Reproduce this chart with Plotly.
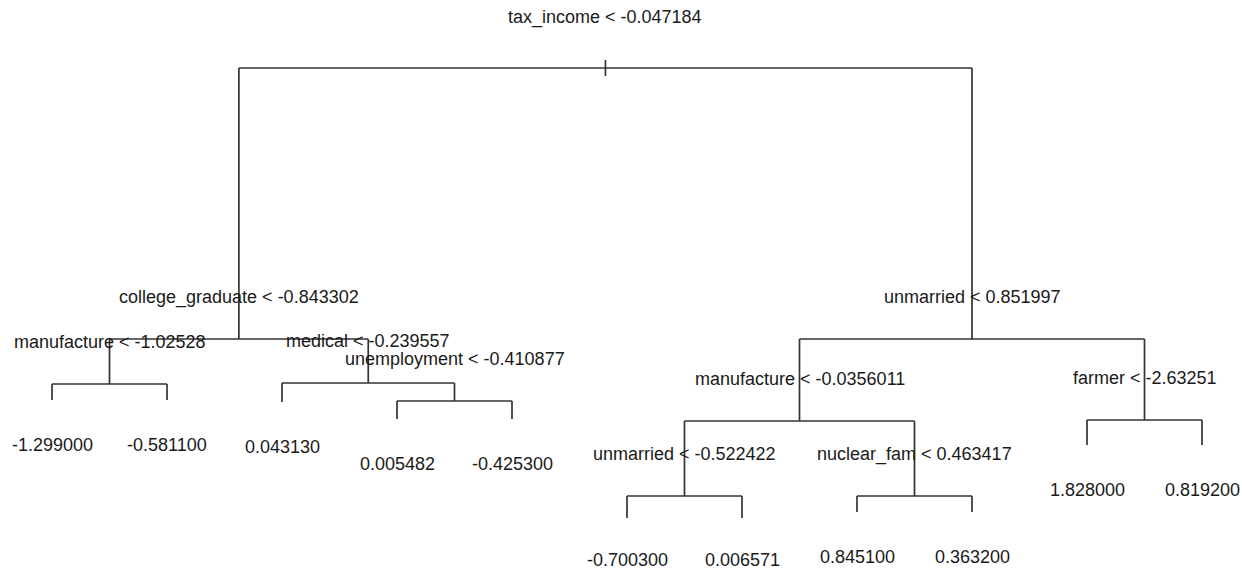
import plotly.graph_objects as go

# Regression tree (R "tree" style). Node ids follow R numbering: children of n are 2n, 2n+1.
node_ids = [1, 2, 3, 4, 5, 6, 7, 8, 9, 10, 11, 12, 13, 14, 15, 22, 23, 24, 25, 26, 27]
split_labels = {
    1: "tax_income < -0.047184",
    2: "college_graduate < -0.843302",
    4: "manufacture < -1.02528",
    5: "medical < -0.239557",
    11: "unemployment < -0.410877",
    3: "unmarried < 0.851997",
    6: "manufacture < -0.0356011",
    12: "unmarried < -0.522422",
    13: "nuclear_fam < 0.463417",
    7: "farmer < -2.63251",
}
leaf_values = {
    8: "-1.299000", 9: "-0.581100", 10: "0.043130",
    22: "0.005482", 23: "-0.425300",
    24: "-0.700300", 25: "0.006571", 26: "0.845100", 27: "0.363200",
    14: "1.828000", 15: "0.819200",
}
# node height (deviance scale)
node_height = {
    1: 502, 2: 231, 3: 231, 4: 186, 5: 187, 6: 149, 7: 150,
    8: 170, 9: 170, 10: 168, 11: 169, 12: 74, 13: 74, 14: 125, 15: 125,
    22: 151, 23: 151, 24: 52, 25: 52, 26: 58, 27: 58,
}

LINE = "#333333"
TXT = "#1a1a1a"
FONT = "Liberation Sans, Arial, sans-serif"
FS = 18
LABEL_UP = 42      # split label offset above node
LEAF_DOWN = 45     # leaf label offset below leaf
MIN_LABEL_Y = 10   # keep bottom labels inside the canvas
ROOT_STUB = 8

present = set(node_ids)

def children(n):
    return [c for c in (2 * n, 2 * n + 1) if c in present]

# x positions: leaves equally spaced in order, internal nodes at mean of children
xpos = {}
counter = [0]
def place(n):
    ch = children(n)
    if not ch:
        counter[0] += 1
        xpos[n] = counter[0]
    else:
        for c in ch:
            place(c)
        xpos[n] = sum(xpos[c] for c in ch) / len(ch)
place(1)

xs, ys = [], []
for n in node_ids:
    ch = children(n)
    if ch:
        xs += [xpos[ch[0]], xpos[ch[-1]], None]
        ys += [node_height[n], node_height[n], None]
        for c in ch:
            xs += [xpos[c], xpos[c], None]
            ys += [node_height[n], node_height[c], None]
# root stub
xs += [xpos[1], xpos[1], None]
ys += [node_height[1] + ROOT_STUB, node_height[1] - ROOT_STUB, None]

fig = go.Figure()
fig.add_trace(go.Scatter(x=xs, y=ys, mode="lines",
                         line=dict(color=LINE, width=1.7),
                         hoverinfo="skip", showlegend=False))

for n, lab in split_labels.items():
    y = node_height[n] + LABEL_UP
    if n == 1:
        y = node_height[n] + ROOT_STUB + 43
    fig.add_annotation(x=xpos[n], y=y, text=lab, showarrow=False,
                       xanchor="center", yanchor="middle",
                       font=dict(family=FONT, size=FS, color=TXT))
for n, lab in leaf_values.items():
    y = max(node_height[n] - LEAF_DOWN, MIN_LABEL_Y)
    fig.add_annotation(x=xpos[n], y=y, text=lab, showarrow=False,
                       xanchor="center", yanchor="middle",
                       font=dict(family=FONT, size=FS, color=TXT))

W, H = 1242, 570
fig.update_layout(
    width=W, height=H,
    margin=dict(l=0, r=0, t=0, b=0),
    paper_bgcolor="white", plot_bgcolor="white",
    xaxis=dict(range=[1 - 52 / 115, 1 + (W - 52) / 115], visible=False, fixedrange=True),
    yaxis=dict(range=[0, H], visible=False, fixedrange=True),
)
fig.write_html(
    "out.html",
    config={"displayModeBar": False},
    post_script="document.body.style.margin='0';document.body.style.overflow='hidden';",
)
